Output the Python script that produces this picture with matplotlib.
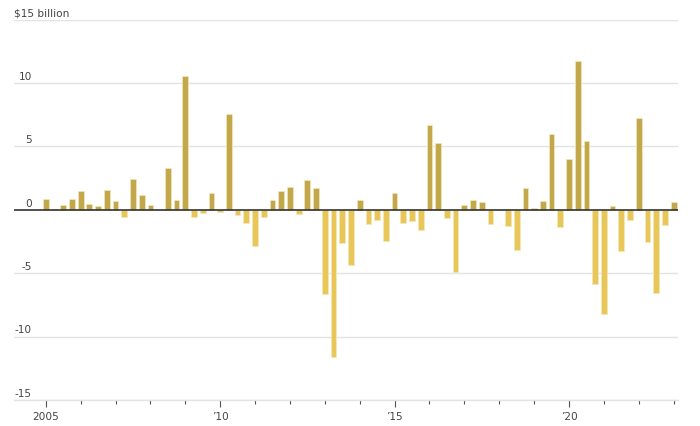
import numpy as np
import matplotlib
matplotlib.use("Agg")
import matplotlib.pyplot as plt
import matplotlib.transforms as mtransforms

plt.rcParams['font.family'] = ['Liberation Sans Narrow', 'DejaVu Sans']

# quarterly values, $ billion, 2005 Q1 .. 2023 Q1
start_year = 2005
values = [
    0.88, 0.09, 0.41, 0.88,      # 2005
    1.44, 0.46, 0.33, 1.52,      # 2006
    0.67, -0.59, 2.39, 1.20,     # 2007
    0.38, 0.0, 3.31, 0.75,       # 2008
    10.54, -0.59, -0.28, 1.36,   # 2009
    -0.20, 7.53, -0.43, -1.02,   # 2010
    -2.89, -0.59, 0.80, 1.44,    # 2011
    1.81, -0.36, 2.31, 1.75,     # 2012
    -6.66, -11.60, -2.60, -4.39, # 2013
    0.73, -1.10, -0.80, -2.44,   # 2014
    1.36, -1.02, -0.88, -1.62,   # 2015
    6.66, 5.24, -0.67, -4.87,    # 2016
    0.38, 0.73, 0.62, -1.10,     # 2017
    0.0, -1.31, -3.21, 1.73,     # 2018
    0.17, 0.67, 5.95, -1.39,     # 2019
    3.97, 11.73, 5.40, -5.82,    # 2020
    -8.25, 0.30, -3.29, -0.80,   # 2021
    7.22, -2.52, -6.53, -1.23,   # 2022
    0.62,                        # 2023
]
y_ticks = [-15, -10, -5, 0, 5, 10, 15]
y_labels = ['-15', '-10', '-5', '0', '5', '10', '$15 billion']
x_major = [2005, 2010, 2015, 2020]
x_major_labels = ['2005', '\u201910', '\u201915', '\u201920']

pos_color = '#c2a84a'
neg_color = '#e8c657'
text_color = '#444444'
fs = 7.6

x = start_year + np.arange(len(values)) / 4.0
vals = np.array(values)
colors = [pos_color if v >= 0 else neg_color for v in vals]

fig = plt.figure(figsize=(7, 4.26), dpi=100)
ax = fig.add_axes([14 / 700, 26 / 426, 664 / 700, 380.5 / 426])

ax.bar(x, vals, width=0.165, color=colors, edgecolor='#f4e8bb',
       linewidth=0.5, zorder=3)
ax.axhline(0, color='#333333', lw=1.2, zorder=4)

ax.set_xlim(2004.09, 2023.125)
ax.set_ylim(-15, 15)

# gridlines
for t in y_ticks:
    if t != 0:
        ax.axhline(t, color='#e3e3e3', lw=1, zorder=1)

for s in ['top', 'right', 'left']:
    ax.spines[s].set_visible(False)
ax.spines['bottom'].set_color('#e3e3e3')
ax.spines['bottom'].set_linewidth(1)

ax.set_yticks([])
# y labels sit just above their gridlines
trans = mtransforms.blended_transform_factory(ax.transAxes, ax.transData)
for t, lab in zip(y_ticks, y_labels):
    if t == 15:
        ax.text(0.0, t + 0.25, lab, transform=trans, ha='left', va='baseline',
                fontsize=fs, color=text_color)
    else:
        ax.text(0.027, t + 0.25, lab, transform=trans, ha='right', va='baseline',
                fontsize=fs, color=text_color)

ax.set_xticks(x_major)
ax.set_xticklabels(x_major_labels)
ax.set_xticks(list(range(2006, 2024)), minor=True)
ax.tick_params(axis='x', which='major', length=5, width=0.8, color='#555555',
               labelsize=fs, labelcolor=text_color, pad=3.5)
ax.tick_params(axis='x', which='minor', length=3, width=0.8, color='#555555')

fig.savefig('out.png', dpi=100)
